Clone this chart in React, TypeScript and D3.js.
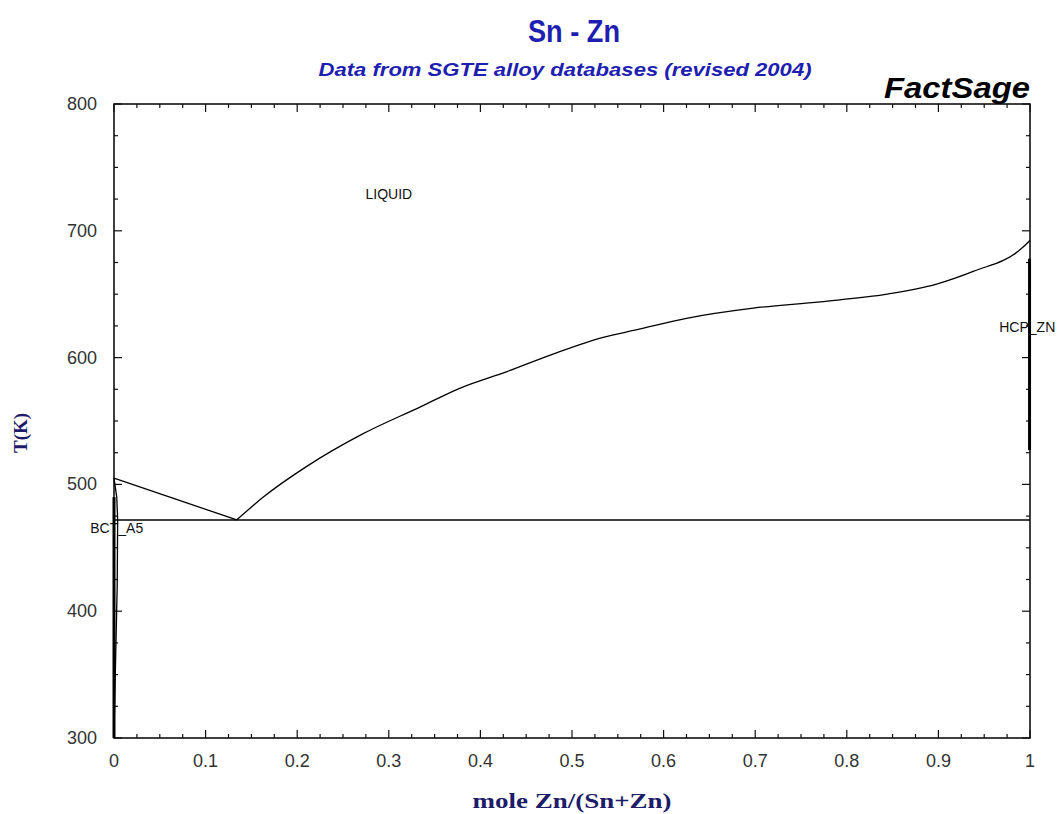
import React from "react";
import * as d3 from "d3";

const xTicks = [0, 0.1, 0.2, 0.3, 0.4, 0.5, 0.6, 0.7, 0.8, 0.9, 1];
const xTickLabels = ["0", "0.1", "0.2", "0.3", "0.4", "0.5", "0.6", "0.7", "0.8", "0.9", "1"];
const yTicks = [300, 400, 500, 600, 700, 800];

// Liquidus, Sn side (x, T)
const liquidusLeftX = [0, 0.134];
const liquidusLeftT = [505, 472];
// Liquidus, Zn side
const liquidusRightX = [0.134, 0.163, 0.21, 0.272, 0.334, 0.378, 0.429, 0.48, 0.534, 0.571, 0.625, 0.698, 0.771, 0.844, 0.898, 0.938, 0.989, 0.998, 1];
const liquidusRightT = [472, 490, 514, 540, 561, 576, 589, 603, 616, 622, 631, 639, 644, 650, 658, 668, 685, 691, 692.5];
// Eutectic
const eutecticX = [0, 1];
const eutecticT = [472, 472];
// BCT_A5 solidus and solvus
const bctX = [0, 0.003, 0.004, 0.0035, 0.002, 0.0005, 0];
const bctT = [505, 490, 472, 420, 370, 320, 300];
// HCP_ZN boundary (thick)
const hcpX = [0.9995, 0.9995];
const hcpT = [678, 527];

const labels = [
  { text: "LIQUID", x: 0.3, T: 725 },
  { text: "HCP_ZN", x: 0.997, T: 620 },
  { text: "BCT_A5", x: 0.003, T: 462 },
];

const W = 1060;
const H = 814;
const x0 = 114, x1 = 1030, yTop = 104, yBot = 738;

export default function App() {
  const x = d3.scaleLinear().domain([0, 1]).range([x0, x1]);
  const y = d3.scaleLinear().domain([300, 800]).range([yBot, yTop]);
  const line = d3.line<[number, number]>().x((d) => x(d[0])).y((d) => y(d[1]));
  const zip = (xs: number[], ts: number[]) => xs.map((v, i) => [v, ts[i]] as [number, number]);
  const smooth = d3.line<[number, number]>().x((d) => x(d[0])).y((d) => y(d[1])).curve(d3.curveMonotoneX);

  const xMinor = d3.range(0, 1.0001, 0.025);
  const yMinor = d3.range(300, 800.001, 25);
  const isMajorX = (v: number) => Math.abs(v * 10 - Math.round(v * 10)) < 1e-6;
  const isMajorY = (v: number) => Math.abs(v % 100) < 1e-6;

  const tickColor = "#111";
  const blue = "#1e1eb0";
  const navy = "#1c1c6a";
  const sans = "'Liberation Sans', Arial, sans-serif";
  const serif = "'Liberation Serif', 'Times New Roman', serif";

  return (
    <svg width={W} height={H} style={{ position: "absolute", left: 0, top: 0, background: "#fff" }}>
      <rect x={0} y={0} width={W} height={H} fill="#fff" />
      <g transform="translate(574,42) scale(1,1.2)">
        <text x={0} y={0} textAnchor="middle" fontFamily={sans} fontWeight="bold" fontSize={26} fill={blue} textLength={92} lengthAdjust="spacingAndGlyphs">Sn - Zn</text>
      </g>
      <text x={565} y={76} textAnchor="middle" fontFamily={sans} fontWeight="bold" fontStyle="italic" fontSize={19} fill={blue} textLength={493} lengthAdjust="spacingAndGlyphs">Data from SGTE alloy databases (revised 2004)</text>
      <text x={1030} y={98} textAnchor="end" fontFamily={sans} fontWeight="bold" fontStyle="italic" fontSize={30} fill="#000" textLength={146} lengthAdjust="spacingAndGlyphs">FactSage</text>

      {/* frame */}
      <rect x={x0} y={yTop} width={x1 - x0} height={yBot - yTop} fill="none" stroke="#000" strokeWidth={1.5} />

      {/* ticks */}
      {xMinor.map((v, i) => {
        const len = isMajorX(v) ? 8 : 4;
        return (
          <g key={"xt" + i}>
            <line x1={x(v)} x2={x(v)} y1={yBot} y2={yBot - len} stroke={tickColor} strokeWidth={1.2} />
            <line x1={x(v)} x2={x(v)} y1={yTop} y2={yTop + len} stroke={tickColor} strokeWidth={1.2} />
          </g>
        );
      })}
      {yMinor.map((v, i) => {
        const len = isMajorY(v) ? 8 : 4;
        return (
          <g key={"yt" + i}>
            <line x1={x0} x2={x0 + len} y1={y(v)} y2={y(v)} stroke={tickColor} strokeWidth={1.2} />
            <line x1={x1} x2={x1 - len} y1={y(v)} y2={y(v)} stroke={tickColor} strokeWidth={1.2} />
          </g>
        );
      })}
      {xTicks.map((v, i) => (
        <text key={"xl" + i} x={x(v)} y={767} textAnchor="middle" fontFamily={sans} fontSize={18} fill="#333">{xTickLabels[i]}</text>
      ))}
      {yTicks.map((v, i) => (
        <text key={"yl" + i} x={97} y={y(v) + 6} textAnchor="end" fontFamily={sans} fontSize={18} fill="#333">{v}</text>
      ))}

      {/* axis titles */}
      <text x={572} y={808} textAnchor="middle" fontFamily={serif} fontWeight="bold" fontSize={20} fill={navy} textLength={199} lengthAdjust="spacingAndGlyphs">mole Zn/(Sn+Zn)</text>
      <text transform={`translate(27,${433}) rotate(-90)`} textAnchor="middle" fontFamily={serif} fontWeight="bold" fontSize={19} fill={navy}>T(K)</text>

      {/* phase boundaries */}
      <path d={line(zip(eutecticX, eutecticT)) || ""} fill="none" stroke="#000" strokeWidth={1.5} />
      <path d={line(zip(liquidusLeftX, liquidusLeftT)) || ""} fill="none" stroke="#000" strokeWidth={1.3} />
      <path d={smooth(zip(liquidusRightX, liquidusRightT)) || ""} fill="none" stroke="#000" strokeWidth={1.3} />
      <path d={line(zip(bctX, bctT)) || ""} fill="none" stroke="#000" strokeWidth={1.3} />
      <line x1={x(0)} x2={x(0)} y1={y(490)} y2={y(300)} stroke="#000" strokeWidth={3} />
      <path d={line(zip(hcpX, hcpT)) || ""} fill="none" stroke="#000" strokeWidth={3} />

      {/* phase labels */}
      {labels.map((l, i) => (
        <text key={"pl" + i} x={x(l.x)} y={y(l.T)} textAnchor="middle" fontFamily={sans} fontSize={14} fill="#111">{l.text}</text>
      ))}
    </svg>
  );
}
